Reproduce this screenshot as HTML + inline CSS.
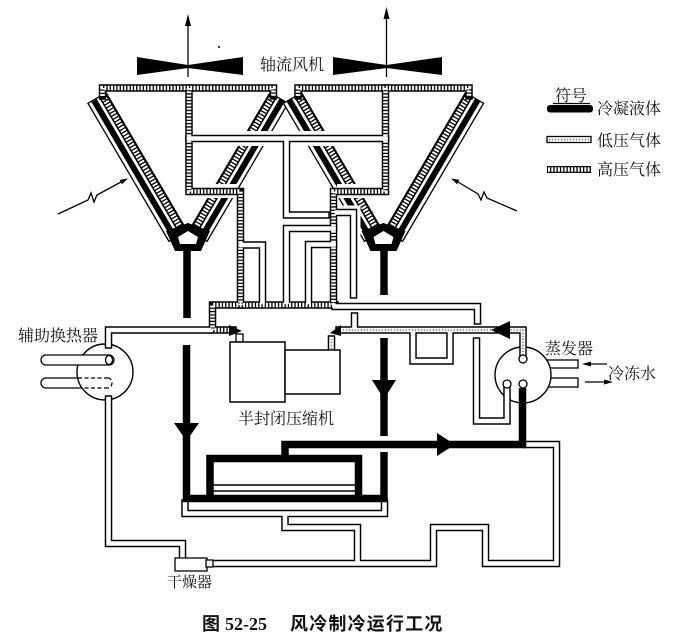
<!DOCTYPE html>
<html><head><meta charset="utf-8">
<style>
html,body{margin:0;padding:0;background:#fff;}
svg{display:block}
.t{font-family:"Liberation Serif","Noto Serif CJK SC",serif;font-size:16px;fill:#111}
.cap{font-family:"Liberation Serif","Noto Sans CJK SC",sans-serif;font-weight:bold;font-size:18px;fill:#111}
.kb path{fill:none;stroke:#000;stroke-width:7.5;stroke-linecap:square;stroke-linejoin:miter}
.kw path{fill:none;stroke:#fff;stroke-width:4.6;stroke-linecap:square;stroke-linejoin:miter}
.hw path{fill:none;stroke:#fff;stroke-width:4.6;stroke-dasharray:2 1.3;stroke-linejoin:miter}
.dd path{fill:none;stroke:#777;stroke-width:1.6;stroke-dasharray:1.3 1.7}
.lq path{fill:none;stroke:#000;stroke-width:7.5;stroke-linejoin:miter}
.thin{fill:none;stroke:#000;stroke-width:1.3}
</style></head><body>
<svg width="694" height="639" viewBox="0 0 694 639" xmlns="http://www.w3.org/2000/svg">
<defs>
<g id="coil">
<rect x="0" y="-10.5" width="160" height="21" fill="#fff" stroke="#000" stroke-width="1.3"/>
<rect x="0" y="0.8" width="160" height="6" fill="#000"/>
<line x1="0.8" y1="-6.2" x2="159.2" y2="-6.2" stroke="#000" stroke-width="8.6"/>
<line x1="0.8" y1="-6.2" x2="159.2" y2="-6.2" stroke="#fff" stroke-width="5.6" stroke-dasharray="2 1.3"/>
</g>
</defs>

<!-- fans -->
<polygon points="137,57 188,65 243,57 243,75 188,68 137,75" fill="#000"/>
<polygon points="333,57 386.5,65 442,57 442,75 386.5,68 333,75" fill="#000"/>
<line x1="188" y1="24" x2="188" y2="77" class="thin"/>
<polygon points="188,14 185,26 191,26" fill="#000"/>
<line x1="386.5" y1="16" x2="386.5" y2="77" class="thin"/>
<polygon points="386.5,7 383.5,19 389.5,19" fill="#000"/>
<circle cx="219" cy="47" r="1" fill="#000"/>
<text x="260" y="70" class="t">轴流风机</text>

<!-- coils -->
<use href="#coil" transform="translate(97,98) rotate(59.59)"/>
<use href="#coil" transform="translate(279,98) rotate(120.41) scale(1,-1)"/>
<use href="#coil" transform="translate(292.5,98) rotate(59.59)"/>
<use href="#coil" transform="translate(474.5,98) rotate(120.41) scale(1,-1)"/>

<!-- gaps -->
<rect x="192" y="131" width="190" height="15" fill="#fff"/>
<rect x="194" y="184" width="44" height="14" fill="#fff"/>
<rect x="337" y="184" width="46" height="14" fill="#fff"/>
<path d="M337,212.5 H353.5 V295" fill="none" stroke="#fff" stroke-width="14"/>

<!-- collars -->
<polygon points="166,231 188,223 210,231 201,251 175,251" fill="#000"/>
<polygon points="178,237 188,231 198,237 196,244 180,244" fill="#fff"/>
<polygon points="361.5,231 383.5,223 405.5,231 396.5,251 370.5,251" fill="#000"/>
<polygon points="373.5,237 383.5,231 393.5,237 391.5,244 375.5,244" fill="#fff"/>

<!-- heat arrows -->
<polyline points="58,214 88,200 91,193 94,202 97,195 121,182" class="thin"/>
<polygon points="128,178.5 121.9,184.3 119.7,179.9" fill="#000"/>
<polyline points="517,211 487,198 484,192 481,200 478,194 458,182" class="thin"/>
<polygon points="451,178.5 459.3,179.9 457.1,184.3" fill="#000"/>

<!-- big circles -->
<circle cx="105" cy="372" r="28" fill="#fff" stroke="#000" stroke-width="1.4"/>
<rect x="540" y="360" width="38" height="8" fill="#fff" stroke="#000" stroke-width="1.3"/>
<rect x="540" y="378" width="38" height="9" fill="#fff" stroke="#000" stroke-width="1.3"/>
<circle cx="523" cy="375" r="28" fill="#fff" stroke="#000" stroke-width="1.4"/>

<!-- aux HX internal pipes -->
<rect x="41" y="355" width="73" height="10" rx="5" fill="#fff" stroke="#000" stroke-width="1.3"/>
<ellipse cx="109" cy="360" rx="3.5" ry="4.5" fill="#fff" stroke="#000" stroke-width="1.3"/>
<path d="M78,378 H46 A5,5 0 0 0 46,388 H78" class="thin"/>
<path d="M78,378 H108 M78,388 H108 M108,378 A4,5 0 0 1 108,388" fill="none" stroke="#000" stroke-width="1.3" stroke-dasharray="4 2.5"/>

<!-- pipes black pass -->
<g class="kb">
<path d="M102.5,96 V88 H273.5 V96"/>
<path d="M189,88 V191.5 H240.5 V305"/>
<path d="M298,96 V88 H469 V96"/>
<path d="M385.5,88 V191.5 H333.5 V305"/>
<path d="M233,330 H212.5 V305 H335"/>
<path d="M108.5,345 V330 H209"/>
<path d="M241,245 H262.5 V302"/>
<path d="M189,138.5 H385.5"/>
<path d="M286.5,138.5 V215 H326"/>
<path d="M333.5,228.5 H286.5 V302"/>
<path d="M333.5,244.5 H308.5 V302"/>
<path d="M337,212.5 H353.5 V295"/>
<path d="M335,306.5 H477.5 V321"/>
<path d="M354.5,327 V316"/>
<path d="M413,333 V361 H450 V333"/>
<path d="M507,389 V421 H476.5 V341"/>
<path d="M108.5,399 V543.5 H182.5 V556"/>
<path d="M213,488 H355"/>
<path d="M185,503 V513.5 H384.5 V503"/>
<path d="M285,516 V527.5 H357.5 V561"/>
<path d="M207,563.5 H433.5 V527.5 H485.5 V563.5 H556.5 V444.5 H527"/>
<path d="M523,355 V330 H339"/>
<path d="M331.5,349 V339"/>
</g>
<!-- white pipes -->
<g class="kw">
<path d="M108.5,345 V330 H209"/>
<path d="M241,245 H262.5 V302"/>
<path d="M189,138.5 H385.5"/>
<path d="M286.5,138.5 V215 H326"/>
<path d="M333.5,228.5 H286.5 V302"/>
<path d="M333.5,244.5 H308.5 V302"/>
<path d="M337,212.5 H353.5 V295"/>
<path d="M335,306.5 H477.5 V321"/>
<path d="M354.5,327 V316"/>
<path d="M413,333 V361 H450 V333"/>
<path d="M507,389 V421 H476.5 V341"/>
<path d="M108.5,399 V543.5 H182.5 V556"/>
<path d="M213,488 H355"/>
<path d="M185,503 V513.5 H384.5 V503"/>
<path d="M285,516 V527.5 H357.5 V561"/>
<path d="M207,563.5 H433.5 V527.5 H485.5 V563.5 H556.5 V444.5 H527"/>
<path d="M523,355 V330 H339"/>
<path d="M331.5,349 V339"/>
</g>
<!-- hatched whites -->
<g class="hw">
<path d="M102.5,96 V88 H273.5 V96"/>
<path d="M189,88 V191.5 H240.5 V305"/>
<path d="M298,96 V88 H469 V96"/>
<path d="M385.5,88 V191.5 H333.5 V305"/>
<path d="M233,330 H212.5 V305 H335"/>
</g>
<!-- dots -->
<g class="dd">
<path d="M523,355 V330 H339"/>
<path d="M331.5,349 V339"/>
</g>

<!-- liquid -->
<g class="lq">
<path d="M187,249 V318"/>
<path d="M384,249 V295"/>
<path d="M186.5,345 V498.5 H384 V452"/>
<path d="M210,498.5 V458.5 H358.5 V498.5"/>
<path d="M285,458.5 V444.5 H522.5 V388"/>
<path d="M384,338 V436"/>
</g>
<polygon points="174,423 199,423 186.5,441" fill="#000"/>
<polygon points="372,380 396,380 384,399" fill="#000"/>
<polygon points="437,433 437,456 455,444.5" fill="#000"/>
<polygon points="510,321 510,339 491,330" fill="#000"/>
<polygon points="229,325 242,331 229,336" fill="#000"/>
<polygon points="341,325 341,336 330,333" fill="#000"/>

<!-- small evaporator circles -->
<circle cx="523" cy="359" r="4" fill="#fff" stroke="#000" stroke-width="1.3"/>
<circle cx="507" cy="384" r="4" fill="#fff" stroke="#000" stroke-width="1.3"/>
<circle cx="523" cy="384" r="4" fill="#fff" stroke="#000" stroke-width="1.3"/>

<!-- compressor -->
<rect x="236" y="334" width="7" height="8" fill="#fff" stroke="#000" stroke-width="1.3"/>
<rect x="230" y="342" width="55" height="60" fill="#fff" stroke="#000" stroke-width="1.5"/>
<rect x="285" y="350" width="55" height="44" fill="#fff" stroke="#000" stroke-width="1.5"/>
<text x="238" y="424" class="t">半封闭压缩机</text>

<!-- drier -->
<rect x="175" y="558" width="32" height="13" fill="#fff" stroke="#000" stroke-width="1.3"/>
<rect x="206" y="560" width="7" height="7" fill="#fff" stroke="#000" stroke-width="1.3"/>
<text x="167" y="587" class="t" style="font-size:15px">干燥器</text>

<!-- labels -->
<text x="18" y="341" class="t">辅助换热器</text>
<text x="545" y="354" class="t">蒸发器</text>
<text x="608" y="379" class="t">冷冻水</text>
<line x1="587" y1="364" x2="607" y2="364" class="thin"/>
<polygon points="582,364 591,361.5 591,366.5" fill="#000"/>
<line x1="585" y1="382" x2="605" y2="382" class="thin"/>
<polygon points="613,382 604,379.5 604,384.5" fill="#000"/>

<!-- legend -->
<text x="555" y="101" class="t">符号</text>
<line x1="553" y1="103.5" x2="590" y2="103.5" class="thin"/>
<rect x="547" y="105" width="46" height="7.5" rx="3" fill="#000"/>
<text x="597" y="114" class="t">冷凝液体</text>
<rect x="547" y="136.5" width="44" height="6" fill="#fff" stroke="#000" stroke-width="1.3"/>
<line x1="549" y1="139.5" x2="589" y2="139.5" stroke="#777" stroke-width="1.6" stroke-dasharray="1.3 1.7"/>
<text x="597" y="146" class="t">低压气体</text>
<line x1="547" y1="169.5" x2="591" y2="169.5" stroke="#000" stroke-width="7"/>
<line x1="548" y1="169.5" x2="590" y2="169.5" stroke="#fff" stroke-width="4.4" stroke-dasharray="2 1.3"/>
<text x="597" y="175" class="t">高压气体</text>

<!-- caption -->
<text x="202" y="630" class="cap">图</text>
<text x="225" y="630" font-family="Liberation Serif" font-weight="bold" font-size="18" fill="#111">52-25</text>
<text x="290" y="630" class="cap" letter-spacing="1.2">风冷制冷运行工况</text>
</svg>
</body></html>
